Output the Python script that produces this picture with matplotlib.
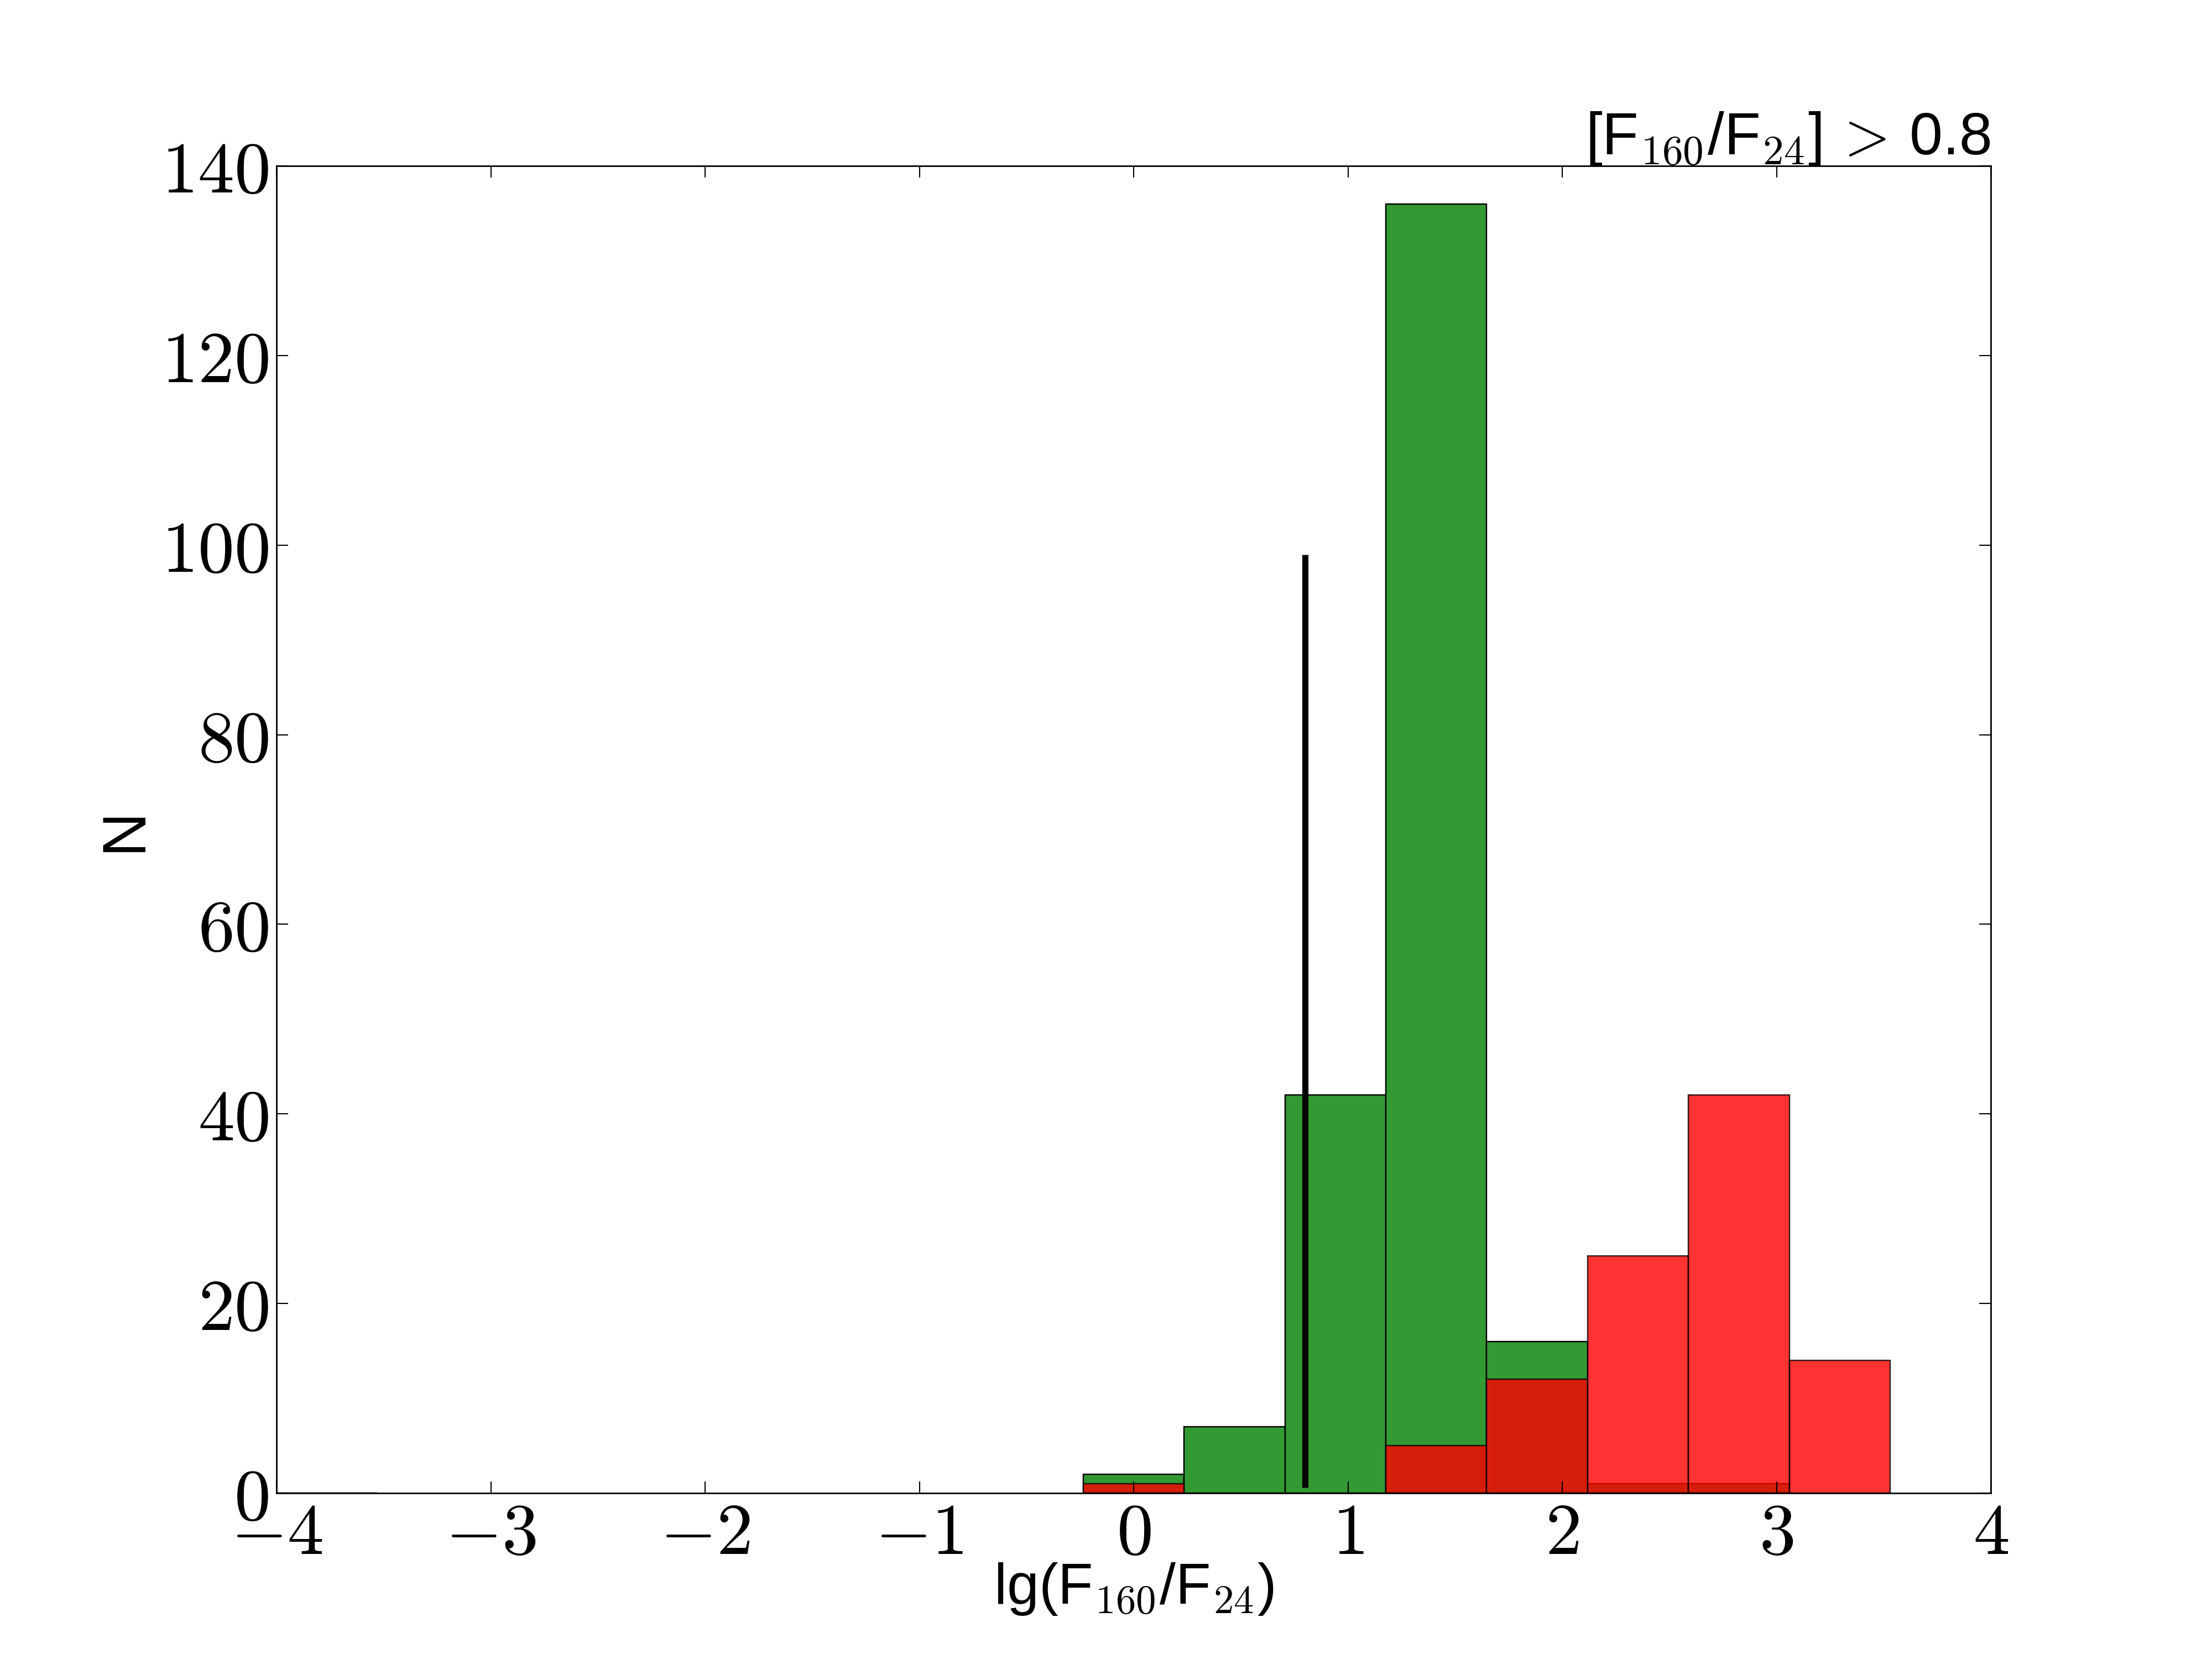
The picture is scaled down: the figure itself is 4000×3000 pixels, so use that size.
import numpy as np
import matplotlib
matplotlib.use('Agg')
import matplotlib.pyplot as plt

plt.rcParams['mathtext.fontset'] = 'cm'
plt.rcParams['font.family'] = ['Liberation Sans', 'DejaVu Sans']

# Гистограммы: 16 бинов от -4 до 3.53
bin_lo = -4.0
bin_hi = 3.53
n_bins = 16
green_counts = [0, 0, 0, 0, 0, 0, 0, 0, 2, 7, 42, 136, 16, 1, 1, 0]
red_counts = [0, 0, 0, 0, 0, 0, 0, 0, 1, 0, 0, 5, 12, 25, 42, 14]
threshold = 0.8
line_span = [0.6, 99]

edges = np.linspace(bin_lo, bin_hi, n_bins + 1)
width = edges[1] - edges[0]

fig = plt.figure(figsize=(8, 6), dpi=500)
ax = fig.add_subplot(111)
fig.subplots_adjust(left=0.125, right=0.9, bottom=0.1, top=0.9)


def draw_hist(counts, color, alpha):
    for i, c in enumerate(counts):
        if c > 0 or i == 0:  # пустой первый бин тоже виден как линия
            ax.bar(edges[i], c, width=width, align='edge', color=color,
                   alpha=alpha, edgecolor='black', linewidth=0.35)


draw_hist(green_counts, '#339933', 1.0)
draw_hist(red_counts, 'red', 0.8)

ax.vlines(threshold, line_span[0], line_span[1], color='black', linewidth=1.6)

ax.set_xlim(-4, 4)
ax.set_ylim(0, 140)
ax.set_xticks(range(-4, 5))
ax.set_yticks(range(0, 141, 20))
ax.set_xticklabels([f'${v}$' for v in range(-4, 5)])
ax.set_yticklabels([f'${v}$' for v in range(0, 141, 20)])
ax.tick_params(direction='in', top=True, right=True, length=3, width=0.3,
               labelsize=19)
ax.tick_params(axis='x', pad=2)
ax.tick_params(axis='y', pad=2)
for s in ax.spines.values():
    s.set_linewidth(0.4)

ax.set_xlabel('lg(F$_{160}$/F$_{24}$)', fontsize=15, labelpad=-2)
ax.set_ylabel('N', fontsize=16, labelpad=2)
ax.set_title('[F$_{160}$/F$_{24}$]$\\,>\\,$0.8', loc='right', fontsize=15.5, pad=3)

fig.savefig('out.png', dpi=500)
